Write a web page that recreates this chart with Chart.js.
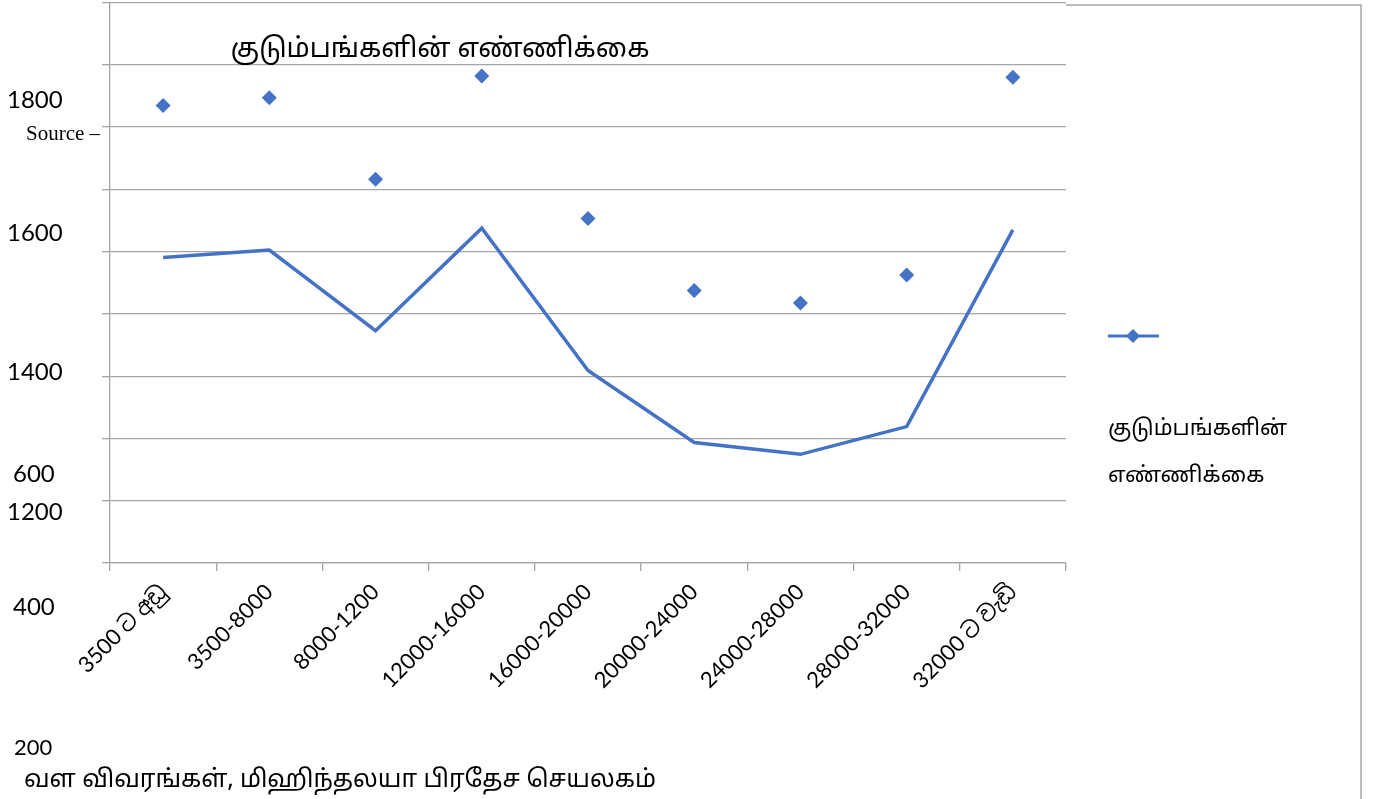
<!DOCTYPE html>
<html>
<head>
<meta charset="utf-8">
<title>குடும்பங்களின் எண்ணிக்கை</title>
<script src="https://cdn.jsdelivr.net/npm/chart.js@4/dist/chart.umd.min.js"></script>
<style>
  html, body { margin: 0; padding: 0; background: #ffffff; }
  canvas { display: block; }
</style>
</head>
<body>
<canvas id="chart" width="1377" height="799"></canvas>
<script>
// Income groups (monthly, Rs.)
const categories = [
  "3500 ට අඩු", "3500-8000", "8000-1200", "12000-16000", "16000-20000",
  "20000-24000", "24000-28000", "28000-32000", "32000 ට වැඩි"
];
// Number of households per income group: marker series and line series
const markerValues = [1469, 1494, 1232, 1564, 1106, 875, 835, 925, 1560];
const lineValues = [981, 1005, 746, 1075, 618, 387, 349, 438, 1070];
// Value axis range
const yMin = 0;
const yMax = 1800;
const yStep = 200;
// Text labels beside the value axis
const sideLabels = ["1800", "Source –", "1600", "1400", "600", "1200", "400", "200"];
const seriesName = "குடும்பங்களின் எண்ணிக்கை";
const titleText = "குடும்பங்களின் எண்ணிக்கை";
const legendLines = ["குடும்பங்களின்", "எண்ணிக்கை"];
const sourceText = "வள விவரங்கள், மிஹிந்தலயா பிரதேச செயலகம்";

const BLUE = "#4472C4";
const GRID = "#a6a6a6";
const TAMIL = "'Noto Sans Tamil', 'Lohit Tamil', 'Latha', 'Noto Sans', sans-serif";
const LATIN = "Lato, 'Noto Sans Sinhala', 'Noto Sans', sans-serif";

const overlayText = {
  id: "overlayText",
  afterDraw(chart) {
    const ctx = chart.ctx;
    ctx.save();

    // chart title, inside the plot area
    ctx.fillStyle = "#000";
    ctx.textBaseline = "alphabetic";
    ctx.textAlign = "center";
    ctx.font = "27px " + TAMIL;
    ctx.fillText(titleText, 440, 57);

    // labels along the value axis
    ctx.textAlign = "left";
    ctx.textBaseline = "middle";
    const spots = [
      [7, 100, "24px " + LATIN],
      [26, 134, "21px 'Liberation Serif', serif"],
      [7, 233, "24px " + LATIN],
      [7, 372, "24px " + LATIN],
      [13, 474, "24px " + LATIN],
      [7, 512, "24px " + LATIN],
      [13, 607, "24px " + LATIN],
      [14, 748, "22px " + LATIN]
    ];
    sideLabels.forEach((t, i) => {
      ctx.font = spots[i][2];
      ctx.fillText(t, spots[i][0], spots[i][1]);
    });

    // source line
    ctx.font = "24.5px " + TAMIL;
    ctx.fillText(sourceText, 24, 782);

    // legend
    ctx.strokeStyle = BLUE;
    ctx.lineWidth = 3;
    ctx.beginPath();
    ctx.moveTo(1108, 336);
    ctx.lineTo(1159, 336);
    ctx.stroke();
    ctx.fillStyle = BLUE;
    ctx.beginPath();
    ctx.moveTo(1133, 329);
    ctx.lineTo(1140, 336);
    ctx.lineTo(1133, 343);
    ctx.lineTo(1126, 336);
    ctx.closePath();
    ctx.fill();
    ctx.fillStyle = "#000";
    ctx.font = "22px " + TAMIL;
    ctx.fillText(legendLines[0], 1108, 431);
    ctx.fillText(legendLines[1], 1108, 478);

    // outer frame on the right
    ctx.strokeStyle = GRID;
    ctx.lineWidth = 1.5;
    ctx.beginPath();
    ctx.moveTo(1066, 5);
    ctx.lineTo(1361, 5);
    ctx.lineTo(1361, 799);
    ctx.stroke();

    ctx.restore();
  }
};

new Chart(document.getElementById("chart"), {
  type: "line",
  data: {
    labels: categories,
    datasets: [
      {
        label: seriesName,
        data: markerValues,
        showLine: false,
        pointStyle: "rectRot",
        pointRadius: 7.5,
        pointBorderWidth: 0,
        backgroundColor: BLUE,
        borderColor: BLUE
      },
      {
        label: seriesName,
        data: lineValues,
        borderColor: BLUE,
        backgroundColor: BLUE,
        borderWidth: 3.5,
        pointRadius: 0,
        tension: 0,
        fill: false
      }
    ]
  },
  options: {
    responsive: false,
    animation: false,
    layout: { autoPadding: false, padding: { left: 0, top: 2.5, right: 311, bottom: 0 } },
    plugins: {
      legend: { display: false },
      title: { display: false },
      tooltip: { enabled: false }
    },
    scales: {
      x: {
        offset: true,
        grid: { offset: true, drawOnChartArea: false, drawTicks: true, tickLength: 8, color: GRID, lineWidth: 1.3 },
        border: { color: GRID, width: 1.3 },
        ticks: {
          autoSkip: false,
          minRotation: 45,
          maxRotation: 45,
          padding: 8,
          color: "#000",
          font: { family: LATIN, size: 22 }
        },
        afterFit(scale) { scale.height = 236; }
      },
      y: {
        min: yMin,
        max: yMax,
        ticks: { stepSize: yStep, display: false },
        grid: { color: GRID, lineWidth: 1.3, tickLength: 8 },
        border: { color: GRID, width: 1.3 },
        afterFit(scale) { scale.width = 110; }
      }
    }
  },
  plugins: [overlayText]
});
</script>
</body>
</html>
